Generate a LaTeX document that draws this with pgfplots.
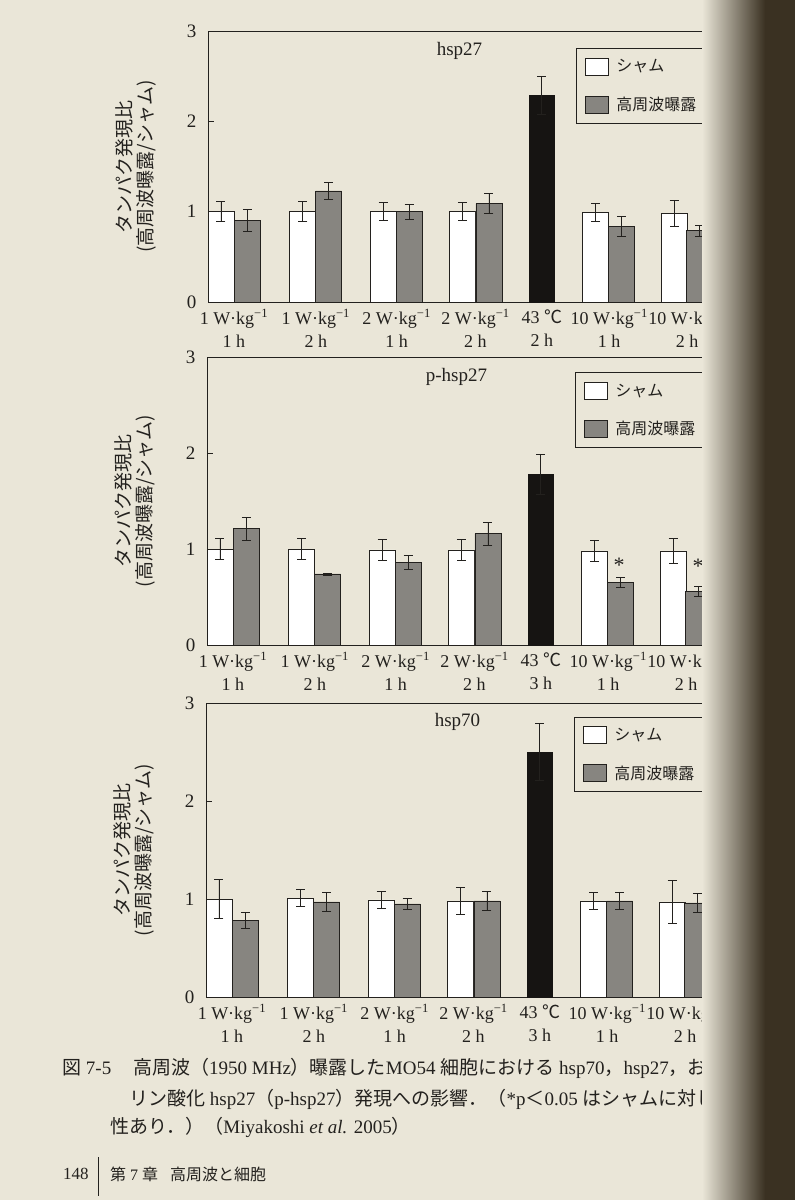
\documentclass[border=0pt]{standalone}
\usepackage{fontspec}
\setmainfont{Liberation Serif}
\newfontfamily\cjk{Noto Sans CJK JP}
\usepackage{pgfplots}
\pgfplotsset{compat=1.18}

\definecolor{paper}{RGB}{234,230,216}
\definecolor{ink}{RGB}{35,33,30}
\definecolor{rfgray}{RGB}{135,133,128}
\definecolor{heatblk}{RGB}{22,20,18}
\definecolor{gutter}{RGB}{58,49,34}

\newcommand{\wkg}[2]{#1 W·kg\textsuperscript{−1}\\#2 h}

\pgfplotsset{
  panel/.style={
    scale only axis, width=504pt,
    xmin=208, xmax=713, ymin=0, ymax=3,
    axis lines*=left,
    axis line style={ink, line width=0.8pt},
    ytick={0,1,2,3}, ytick pos=left,
    tick align=inside, major tick length=6pt,
    tick style={ink, line width=0.8pt},
    xtick={234,316,397,476,542.5,610,688},
    xtick style={draw=none},
    xticklabel style={align=center, font=\fontsize{18}{23}\selectfont, text=ink, yshift=-4pt},
    yticklabel style={font=\fontsize{19}{22}\selectfont, text=ink, xshift=-8pt},
    /pgf/number format/assume math mode=true,
    ylabel={タンパク発現比\\(高周波曝露/シャム)},
    every axis y label/.style={at={(axis description cs:0,0.5)}, rotate=90,
      anchor=center, yshift=72pt, align=center, text=ink,
      font=\cjk\fontsize{19}{21}\selectfont},
    legend image code/.code={\draw[##1,/tikz/.cd,draw=ink,line width=0.7pt]
      (0pt,-8.5pt) rectangle (23pt,8.5pt);},
    legend style={draw=ink, line width=0.7pt, fill=none,
      font=\cjk\fontsize{16}{18}\selectfont, text=ink,
      inner xsep=8pt, inner ysep=9pt, row sep=20pt, anchor=north west,
      cells={anchor=west}},
  },
  errs/.style={
    error bars/y dir=both, error bars/y explicit,
    error bars/error bar style={ink, line width=0.8pt},
    error bars/error mark options={rotate=90, ink, mark size=4.5pt, line width=0.8pt}},
  sham/.style={ybar, bar width=26, bar shift=0pt, fill=white, draw=ink, line width=0.7pt, errs},
  rf/.style={ybar, bar width=26, bar shift=0pt, fill=rfgray, draw=ink, line width=0.7pt, errs},
  heat/.style={ybar, bar width=26, bar shift=0pt, fill=heatblk, draw=heatblk, line width=0.7pt, errs},
}

\begin{document}
\begin{tikzpicture}
\useasboundingbox (0pt,0pt) rectangle (795pt,-1200pt);
\fill[paper] (0pt,0pt) rectangle (795pt,-1200pt);

% hsp27
\begin{axis}[panel, at={(208pt,-302pt)}, anchor=south west, height=271pt,
  xticklabels={\wkg{1}{1},\wkg{1}{2},\wkg{2}{1},\wkg{2}{2},43 {\cjk ℃}\\2 h,\wkg{10}{1},\wkg{10}{2}},
  legend style={at={(axis cs:577,2.81)}}]
\addplot[sham] coordinates {
  (221,1.00) +- (0,0.11)
  (303,1.00) +- (0,0.11)
  (383.5,1.00) +- (0,0.10)
  (463,1.00) +- (0,0.10)
  (596.5,0.99) +- (0,0.10)
  (675,0.98) +- (0,0.14)
};
\addplot[rf] coordinates {
  (247.5,0.90) +- (0,0.12)
  (329,1.23) +- (0,0.09)
  (409.5,1.00) +- (0,0.08)
  (489.5,1.09) +- (0,0.11)
  (622.5,0.84) +- (0,0.11)
  (700.5,0.79) +- (0,0.06)
};
\addplot[heat, forget plot] coordinates {(542.5,2.29) +- (0,0.21)};
\legend{\makebox[84pt][l]{\hspace{6pt}シャム},\makebox[84pt][l]{\hspace{6pt}高周波曝露}}
\draw[ink, line width=0.8pt] (rel axis cs:0,1) -- (rel axis cs:1,1);
\node[font=\fontsize{19}{22}\selectfont, text=ink] at (axis cs:460,2.78) {hsp27};
\end{axis}

% p-hsp27
\begin{axis}[panel, at={(207pt,-645pt)}, anchor=south west, height=288pt,
  xticklabels={\wkg{1}{1},\wkg{1}{2},\wkg{2}{1},\wkg{2}{2},43 {\cjk ℃}\\3 h,\wkg{10}{1},\wkg{10}{2}},
  legend style={at={(axis cs:577,2.84)}}]
\addplot[sham] coordinates {
  (221,1.00) +- (0,0.11)
  (303,1.00) +- (0,0.11)
  (383.5,0.99) +- (0,0.11)
  (463,0.99) +- (0,0.11)
  (596.5,0.98) +- (0,0.11)
  (675,0.98) +- (0,0.13)
};
\addplot[rf] coordinates {
  (247.5,1.21) +- (0,0.12)
  (329,0.74) +- (0,0.01)
  (409.5,0.86) +- (0,0.07)
  (489.5,1.16) +- (0,0.12)
  (622.5,0.65) +- (0,0.05)
  (700.5,0.56) +- (0,0.05)
};
\addplot[heat, forget plot] coordinates {(542.5,1.78) +- (0,0.21)};
\legend{\makebox[84pt][l]{\hspace{6pt}シャム},\makebox[84pt][l]{\hspace{6pt}高周波曝露}}
\draw[ink, line width=0.8pt] (rel axis cs:0,1) -- (rel axis cs:1,1);
\node[font=\fontsize{19}{22}\selectfont, text=ink] at (axis cs:458,2.79) {p-hsp27};
\node[font=\fontsize{22}{22}\selectfont, text=ink] at (axis cs:621,0.83) {*};
\node[font=\fontsize{22}{22}\selectfont, text=ink] at (axis cs:700,0.82) {*};
\end{axis}

% hsp70
\begin{axis}[panel, at={(206pt,-997pt)}, anchor=south west, height=294pt,
  xticklabels={\wkg{1}{1},\wkg{1}{2},\wkg{2}{1},\wkg{2}{2},43 {\cjk ℃}\\3 h,\wkg{10}{1},\wkg{10}{2}},
  legend style={at={(axis cs:577,2.86)}}]
\addplot[sham] coordinates {
  (221,1.00) +- (0,0.20)
  (303,1.01) +- (0,0.09)
  (383.5,0.99) +- (0,0.09)
  (463,0.98) +- (0,0.14)
  (596.5,0.98) +- (0,0.09)
  (675,0.97) +- (0,0.22)
};
\addplot[rf] coordinates {
  (247.5,0.78) +- (0,0.08)
  (329,0.97) +- (0,0.10)
  (409.5,0.95) +- (0,0.06)
  (489.5,0.98) +- (0,0.10)
  (622.5,0.98) +- (0,0.09)
  (700.5,0.96) +- (0,0.10)
};
\addplot[heat, forget plot] coordinates {(542.5,2.50) +- (0,0.29)};
\legend{\makebox[84pt][l]{\hspace{6pt}シャム},\makebox[84pt][l]{\hspace{6pt}高周波曝露}}
\draw[ink, line width=0.8pt] (rel axis cs:0,1) -- (rel axis cs:1,1);
\node[font=\fontsize{19}{22}\selectfont, text=ink] at (axis cs:460,2.81) {hsp70};
\end{axis}

% caption and footer
\begin{scope}[every node/.style={anchor=west, inner sep=0pt, text=ink, font=\fontsize{19}{21}\selectfont}]
\node at (62pt,-1068pt) {{\cjk 図} 7-5};
\node at (133pt,-1068pt) {{\cjk 高周波（}1950 MHz{\cjk ）曝露した}MO54 {\cjk 細胞における} hsp70{\cjk ，}hsp27{\cjk ，および}};
\node at (129pt,-1099pt) {{\cjk リン酸化} hsp27{\cjk （}p-hsp27{\cjk ）発現への影響．（}*p{\cjk ＜}0.05 {\cjk はシャムに対して有意}};
\node at (110pt,-1127pt) {{\cjk 性あり．）（}Miyakoshi \textit{et al.} 2005{\cjk ）}};
\node[font=\fontsize{17}{18}\selectfont] at (63pt,-1174pt) {148};
\node[font=\fontsize{16}{18}\selectfont] at (110pt,-1174pt) {{\cjk 第} 7 {\cjk 章\hspace{12pt}高周波と細胞}};
\end{scope}
\draw[ink, line width=0.8pt] (98pt,-1157pt) -- (98pt,-1196pt);

% page gutter
\shade[left color=paper, right color=gutter] (702pt,0pt) rectangle (765pt,-1200pt);
\fill[gutter] (765pt,0pt) rectangle (795pt,-1200pt);
\end{tikzpicture}
\end{document}
